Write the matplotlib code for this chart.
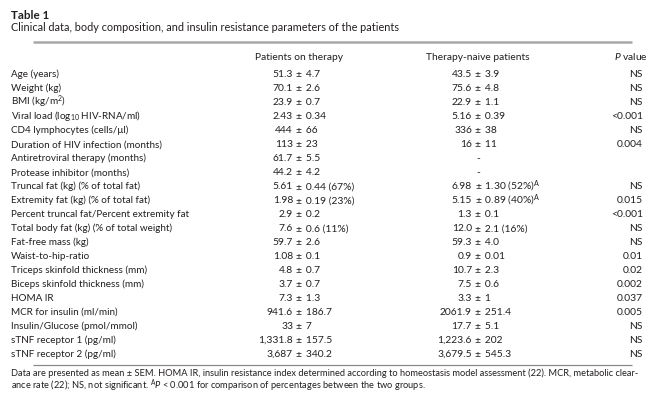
import matplotlib
matplotlib.use("Agg")
import matplotlib.pyplot as plt
from matplotlib.lines import Line2D

plt.rcParams['font.family'] = ['Lato', 'DejaVu Sans']
plt.rcParams['mathtext.fontset'] = 'custom'
plt.rcParams['mathtext.rm'] = 'Lato'
plt.rcParams['mathtext.it'] = 'Lato:italic'
plt.rcParams['mathtext.bf'] = 'Lato:bold'

title = "Table 1"
caption = "Clinical data, body composition, and insulin resistance parameters of the patients"
headers = ["Patients on therapy", "Therapy-naive patients", "$P$ value"]

labels = [
    "Age (years)",
    "Weight (kg)",
    "BMI (kg/m$^{2}$)",
    "Viral load (log$_{10}$ HIV-RNA/ml)",
    "CD4 lymphocytes (cells/μl)",
    "Duration of HIV infection (months)",
    "Antiretroviral therapy (months)",
    "Protease inhibitor (months)",
    "Truncal fat (kg) (% of total fat)",
    "Extremity fat (kg) (% of total fat)",
    "Percent truncal fat/Percent extremity fat",
    "Total body fat (kg) (% of total weight)",
    "Fat-free mass (kg)",
    "Waist-to-hip-ratio",
    "Triceps skinfold thickness (mm)",
    "Biceps skinfold thickness (mm)",
    "HOMA IR",
    "MCR for insulin (ml/min)",
    "Insulin/Glucose (pmol/mmol)",
    "sTNF receptor 1 (pg/ml)",
    "sTNF receptor 2 (pg/ml)",
]

on_therapy = [
    "51.3 ± 4.7", "70.1 ± 2.6", "23.9 ± 0.7", "2.43 ± 0.34", "444 ± 66",
    "113 ± 23", "61.7 ± 5.5", "44.2 ± 4.2", "5.61 ± 0.44 (67%)",
    "1.98 ± 0.19 (23%)", "2.9 ± 0.2", "7.6 ± 0.6 (11%)", "59.7 ± 2.6",
    "1.08 ± 0.1", "4.8 ± 0.7", "3.7 ± 0.7", "7.3 ± 1.3", "941.6 ± 186.7",
    "33 ± 7", "1,331.8 ± 157.5", "3,687 ± 340.2",
]

therapy_naive = [
    "43.5 ± 3.9", "75.6 ± 4.8", "22.9 ± 1.1", "5.16 ± 0.39", "336 ± 38",
    "16 ± 11", "-", "-", "6.98 ± 1.30 (52%)$^{\\mathrm{A}}$",
    "5.15 ± 0.89 (40%)$^{\\mathrm{A}}$", "1.3 ± 0.1", "12.0 ± 2.1 (16%)",
    "59.3 ± 4.0", "0.9 ± 0.01", "10.7 ± 2.3", "7.5 ± 0.6", "3.3 ± 1",
    "2061.9 ± 251.4", "17.7 ± 5.1", "1,223.6 ± 202", "3,679.5 ± 545.3",
]

p_values = [
    "NS", "NS", "NS", "<0.001", "NS", "0.004", "", "", "NS", "0.015",
    "<0.001", "NS", "NS", "0.01", "0.02", "0.002", "0.037", "0.005",
    "NS", "NS", "NS",
]

footnote = [
    "Data are presented as mean ± SEM. HOMA IR, insulin resistance index determined according to homeostasis model assessment (22). MCR, metabolic clear-",
    "ance rate (22); NS, not significant. $^{\\mathrm{A}}P$ < 0.001 for comparison of percentages between the two groups.",
]

W, H = 662, 405
fig = plt.figure(figsize=(W / 100, H / 100), dpi=100)
fig.patch.set_facecolor("white")
TXT = "#231f20"
FS = 7.4
FSL = 7.1


def T(x, y, s, ha="left", **kw):
    kw.setdefault("fontsize", FS)
    kw.setdefault("color", TXT)
    fig.text(x / W, 1 - y / H, s, ha=ha, va="baseline", **kw)


def hline(x0, x1, y, lw, color):
    fig.add_artist(Line2D([x0 / W, x1 / W], [1 - y / H, 1 - y / H],
                          transform=fig.transFigure, lw=lw, color=color,
                          solid_capstyle="butt"))


T(11, 19, title, fontsize=8.4, fontweight="bold")
T(11, 31, caption, fontsize=7.8)
hline(33, 632, 42, 1.8, "#a8a8a8")

col2, col3, colp = 299, 478, 648
T(col2, 60.5, headers[0], ha="center")
T(col3, 60.5, headers[1], ha="center")
T(colp, 60.5, headers[2], ha="right")


def cell(xpm, y, s):
    if " ± " in s:
        left, right = s.split(" ± ", 1)
        T(xpm - 6, y, left, ha="right")
        T(xpm - 3, y, "± \u2009" + right, ha="left")
    else:
        T(xpm, y, s, ha="center")


for i, lab in enumerate(labels):
    yb = 73.7 + 13.98 * i + 3.6
    T(11, yb, lab, fontsize=FSL)
    cell(col2, yb, on_therapy[i])
    cell(col3, yb, therapy_naive[i])
    T(643, yb, p_values[i], ha="right")

hline(33, 632, 365, 0.9, "#8a8a8a")
T(11, 376.5, footnote[0], fontsize=6.7)
T(11, 388.5, footnote[1], fontsize=6.7)

fig.savefig("out.png", dpi=100, facecolor="white")
